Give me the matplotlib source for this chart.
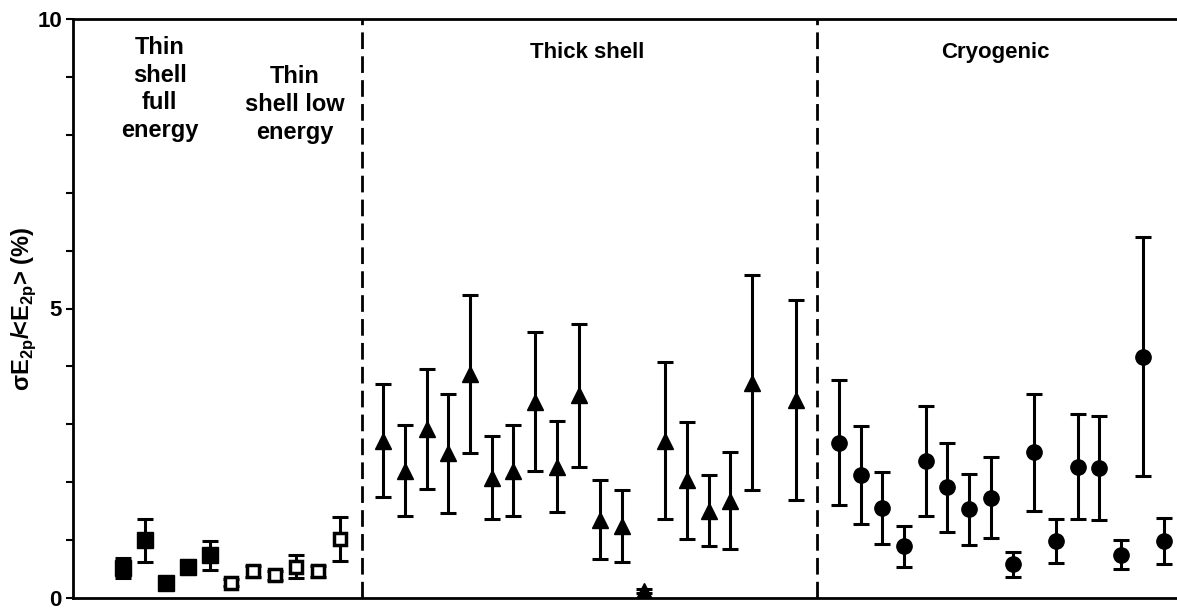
import matplotlib
matplotlib.use("Agg")
import matplotlib.pyplot as plt
from matplotlib.ticker import MultipleLocator, FixedLocator

plt.rcParams['font.family'] = ['Liberation Sans', 'DejaVu Sans']
plt.rcParams['mathtext.fontset'] = 'custom'
plt.rcParams['mathtext.bf'] = 'Liberation Sans:bold'
plt.rcParams['mathtext.rm'] = 'Liberation Sans'

# thin shell, full energy (filled squares)
thin_full_x = [0, 1, 2, 3, 4]
thin_full_y = [0.52, 1.00, 0.26, 0.53, 0.74]
thin_full_err = [0.17, 0.37, 0.05, 0.12, 0.25]

# thin shell, low energy (open squares)
thin_low_x = [5, 6, 7, 8, 9, 10]
thin_low_y = [0.26, 0.46, 0.39, 0.54, 0.46, 1.02]
thin_low_err = [0.06, 0.10, 0.08, 0.20, 0.10, 0.38]

# thick shell (triangles)
thick_x = [12, 13, 14, 15, 16, 17, 18, 19, 20, 21, 22, 23, 24, 25, 26, 27, 28, 29, 31]
thick_y = [2.72, 2.20, 2.92, 2.50, 3.87, 2.08, 2.20, 3.39, 2.27, 3.50, 1.35, 1.24, 0.12,
           2.72, 2.03, 1.51, 1.68, 3.72, 3.42]
thick_err = [0.98, 0.78, 1.03, 1.03, 1.37, 0.72, 0.78, 1.20, 0.78, 1.24, 0.68, 0.62, 0.04,
             1.35, 1.01, 0.61, 0.84, 1.86, 1.72]

# cryogenic (circles)
cryo_x = list(range(33, 49))
cryo_y = [2.68, 2.12, 1.55, 0.89, 2.36, 1.91, 1.53, 1.73, 0.58, 2.52, 0.98, 2.27, 2.24,
          0.75, 4.17, 0.98]
cryo_err = [1.08, 0.85, 0.62, 0.36, 0.95, 0.77, 0.61, 0.70, 0.22, 1.01, 0.38, 0.91, 0.90,
            0.25, 2.07, 0.40]

separators = [11, 32]

fig = plt.figure(figsize=(11.77, 6.11), dpi=100)
ax = fig.add_axes([73 / 1177, 13 / 611, 1124 / 1177, 579 / 611])

eb = dict(fmt='none', ecolor='black', elinewidth=2.2, capsize=5.5, capthick=2.2, zorder=2)
ax.errorbar(thin_full_x, thin_full_y, yerr=thin_full_err, **eb)
ax.errorbar(thin_low_x, thin_low_y, yerr=thin_low_err, **eb)
ax.errorbar(thick_x, thick_y, yerr=thick_err, **eb)
ax.errorbar(cryo_x, cryo_y, yerr=cryo_err, **eb)

ax.plot(thin_full_x, thin_full_y, 's', color='black', ms=11, ls='none', zorder=3)
ax.plot(thin_low_x, thin_low_y, 's', mfc='white', mec='black', mew=2.5, ms=9, ls='none', zorder=3)
ax.plot(thick_x, thick_y, '^', color='black', ms=12, ls='none', zorder=3)
ax.plot(cryo_x, cryo_y, 'o', color='black', ms=11, ls='none', zorder=3)

for s in separators:
    ax.axvline(s, color='black', lw=2, ls=(0, (6, 2.6)), zorder=1)

ax.set_xlim(-2.3, 49.5)
ax.set_ylim(0, 10)
ax.yaxis.set_major_locator(FixedLocator([0, 5, 10]))
ax.yaxis.set_minor_locator(MultipleLocator(1))
ax.tick_params(axis='y', which='both', direction='out', length=5, width=1.5,
               labelsize=16, pad=3)
for lab in ax.get_yticklabels():
    lab.set_fontweight('bold')
ax.set_xticks([])
for side in ['left', 'bottom', 'top']:
    ax.spines[side].set_linewidth(2)
ax.spines['right'].set_visible(False)

ax.set_ylabel(r'σE$_{\mathbf{2p}}$/<E$_{\mathbf{2p}}$> (%)', fontsize=17, fontweight='bold')
ax.yaxis.set_label_coords(-0.031, 0.5)

ax.text(1.7, 9.7, 'Thin\nshell\nfull\nenergy', ha='center', va='top', fontsize=17,
        fontweight='bold', linespacing=1.25)
ax.text(7.9, 9.2, 'Thin\nshell low\nenergy', ha='center', va='top', fontsize=17,
        fontweight='bold', linespacing=1.27)
ax.text(21.4, 9.43, 'Thick shell', ha='center', va='center', fontsize=16, fontweight='bold')
ax.text(40.2, 9.43, 'Cryogenic', ha='center', va='center', fontsize=16, fontweight='bold')

fig.savefig('out.png', dpi=100)
